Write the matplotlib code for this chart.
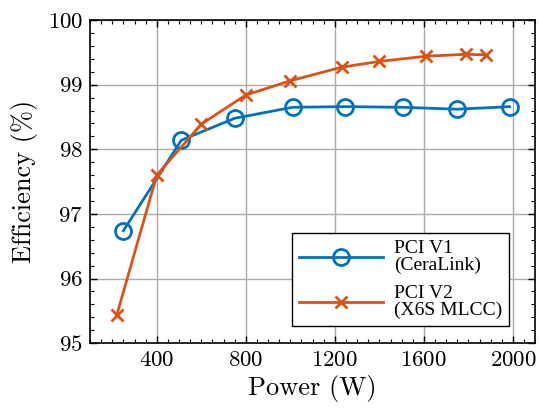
import numpy as np
import matplotlib
matplotlib.use('Agg')
from matplotlib import pyplot as plt
from matplotlib.ticker import MultipleLocator

# data
v1_power = [250, 510, 750, 1010, 1245, 1505, 1750, 1985]
v1_eff = [96.74, 98.14, 98.48, 98.65, 98.66, 98.65, 98.62, 98.66]
v2_power = [220, 400, 600, 800, 1000, 1230, 1400, 1610, 1790, 1880]
v2_eff = [95.43, 97.60, 98.39, 98.84, 99.06, 99.27, 99.36, 99.44, 99.47, 99.46]
labels = ['PCI V1\n(CeraLink)', 'PCI V2\n(X6S MLCC)']

plt.rcParams['font.family'] = 'serif'
plt.rcParams['font.serif'] = ['cmr10', 'DejaVu Serif']
plt.rcParams['mathtext.fontset'] = 'cm'
plt.rcParams['axes.formatter.use_mathtext'] = True

fig = plt.figure(figsize=(5.39, 4.09), dpi=100)
ax = fig.add_axes([0.167, 0.161, 0.826, 0.79])

ax.plot(v1_power, v1_eff, color='#0072BD', lw=2, marker='o', ms=11.5,
        mfc='none', mew=2, label=labels[0], zorder=3)
ax.plot(v2_power, v2_eff, color='#D95319', lw=2, marker='x', ms=9,
        mew=2, label=labels[1], zorder=3)

ax.set_xlim(100, 2100)
ax.set_ylim(95, 100)
ax.xaxis.set_major_locator(MultipleLocator(400))
ax.xaxis.set_minor_locator(MultipleLocator(50))
ax.yaxis.set_major_locator(MultipleLocator(1))
ax.yaxis.set_minor_locator(MultipleLocator(0.2))
ax.tick_params(which='both', direction='in', top=True, right=True, labelsize=16.5)
ax.tick_params(which='major', length=5, width=1, pad=5)
ax.tick_params(which='minor', length=3, width=0.8)
ax.grid(True, which='major', color='#aaaaaa', lw=1)
ax.set_axisbelow(True)
for s in ax.spines.values():
    s.set_linewidth(1.2)

ax.set_xlabel('Power (W)', fontsize=19, labelpad=4)
ax.set_ylabel('Efficiency (%)', fontsize=19, labelpad=7)

leg = ax.legend(loc='lower right', bbox_to_anchor=(0.942, 0.053),
                borderaxespad=0,
                prop={'family': 'Liberation Serif', 'size': 14},
                fancybox=False, framealpha=1, edgecolor='black',
                handlelength=4.3, handletextpad=0.6,
                labelspacing=0.55, borderpad=0.35)
for t in leg.get_texts():
    t.set_linespacing(1.0)
leg.get_frame().set_linewidth(1)

fig.savefig('out.png', dpi=100)
